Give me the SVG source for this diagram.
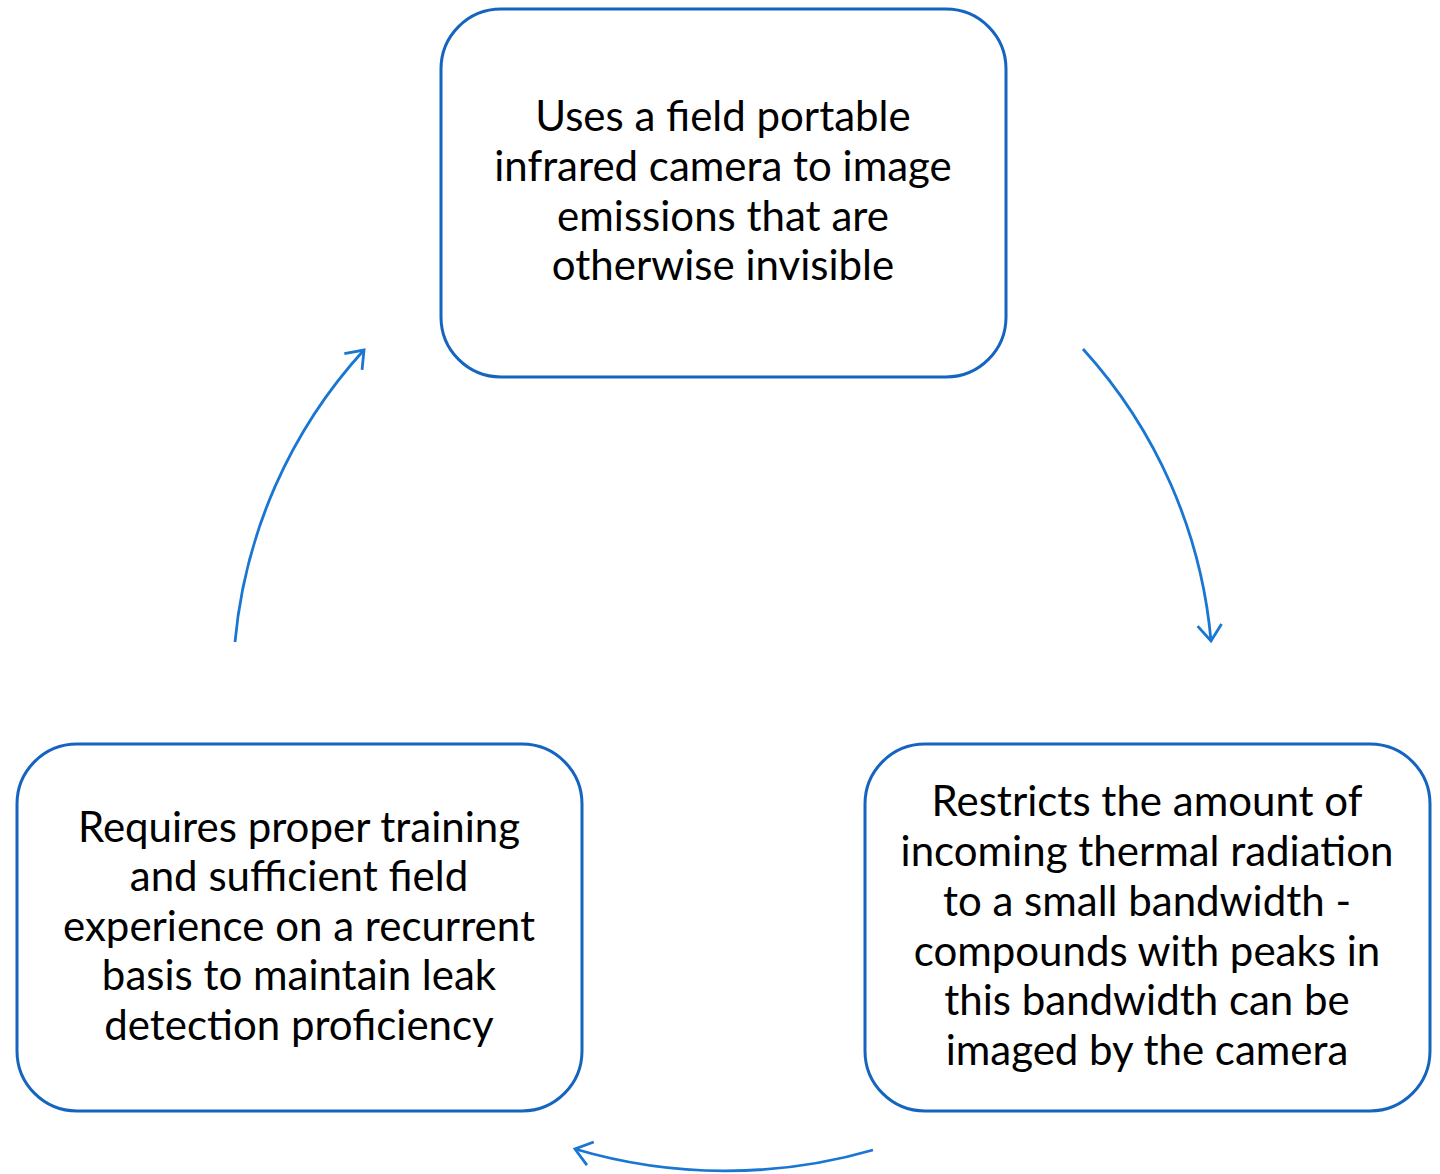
<svg xmlns="http://www.w3.org/2000/svg" width="1440" height="1174" viewBox="0 0 1440 1174">
<defs>
<style>
.box{fill:#fff;stroke:#1565C0;stroke-width:3}
.t{font-family:Lato,"Liberation Sans",sans-serif;font-size:42px;fill:#000;text-anchor:middle}
.c{fill:none;stroke:#1976D2;stroke-width:2.8}
</style>
<marker id="ah" markerUnits="userSpaceOnUse" markerWidth="40" markerHeight="40" refX="20" refY="20" orient="auto" viewBox="0 0 40 40">
<path d="M4,8 L20,20 L4,32" fill="none" stroke="#1976D2" stroke-width="2.8"/>
</marker>
</defs>
<rect width="1440" height="1174" fill="#fff"/>
<g id="node-top">
<rect class="box" x="441" y="9" width="565" height="368" rx="60"/>
<text class="t" x="723" y="131">Uses a field portable</text>
<text class="t" x="723" y="181">infrared camera to image</text>
<text class="t" x="723" y="231">emissions that are</text>
<text class="t" x="723" y="280">otherwise invisible</text>
</g>
<g id="node-right">
<rect class="box" x="865" y="744" width="565" height="367" rx="60"/>
<text class="t" x="1147" y="816">Restricts the amount of</text>
<text class="t" x="1147" y="866">incoming thermal radiation</text>
<text class="t" x="1147" y="916">to a small bandwidth -</text>
<text class="t" x="1147" y="966">compounds with peaks in</text>
<text class="t" x="1147" y="1015">this bandwidth can be</text>
<text class="t" x="1147" y="1065">imaged by the camera</text>
</g>
<g id="node-left">
<rect class="box" x="17" y="744" width="565" height="367" rx="60"/>
<text class="t" x="299" y="842">Requires proper training</text>
<text class="t" x="299" y="891">and sufficient field</text>
<text class="t" x="299" y="941">experience on a recurrent</text>
<text class="t" x="299" y="990">basis to maintain leak</text>
<text class="t" x="299" y="1040">detection proficiency</text>
</g>
<g id="connectors">
<path class="c" d="M1083,349 A500,500 0 0 1 1211,641" marker-end="url(#ah)"/>
<path class="c" d="M873,1150 A530,530 0 0 1 575,1149" marker-end="url(#ah)"/>
<path class="c" d="M235,642 A500,500 0 0 1 364,350" marker-end="url(#ah)"/>
</g>
</svg>
